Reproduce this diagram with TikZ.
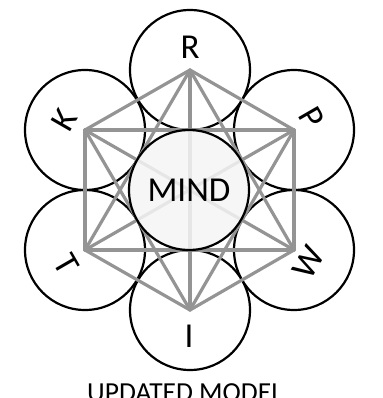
\documentclass[tikz,border=0pt]{standalone}
\usepackage{fontspec}
\setmainfont{Carlito}
\begin{document}
\begin{tikzpicture}[x=1pt,y=-1pt,
  outer/.style={draw=black,line width=2.2pt,circle,minimum size=120pt,inner sep=0pt},
  link/.style={draw=black!42,line width=3.2pt,line cap=round,line join=round},
  lbl/.style={font=\fontsize{35}{35}\selectfont,inner sep=0pt}]
\useasboundingbox (0,0) rectangle (382,398);
\clip (0,0) rectangle (382,398);
% outer circles
\node[outer] (R) at (190,70) {};
\node[outer] (P) at (294,130) {};
\node[outer] (W) at (294,250) {};
\node[outer] (I) at (190,310) {};
\node[outer] (T) at (85,250) {};
\node[outer] (K) at (85,130) {};
% connectors (complete graph)
\foreach \a/\b in {R/P,R/W,R/I,R/T,R/K,P/W,P/I,P/T,P/K,W/I,W/T,W/K,I/T,I/K,T/K}
  \draw[link] (\a.center) -- (\b.center);
% central circle
\node[draw=black,line width=2.2pt,circle,minimum size=120pt,inner sep=0pt,
      fill=black!4,fill opacity=0.85,text opacity=1] (M) at (189,190) {};
\node[lbl] (Mt) at (M.center) {MIND};
% labels
\node[lbl] (Rt) at (190,47) {R};
\node[lbl,rotate=-60] (Pt) at (312,118) {P};
\node[lbl,rotate=60] (Wt) at (309,262) {W};
\node[lbl] (It) at (189,336) {I};
\node[lbl,rotate=-60] (Tt) at (66,264) {T};
\node[lbl,rotate=60] (Kt) at (64,120) {K};
% title
\node[font=\fontsize{27.5}{27.5}\selectfont,anchor=base,inner sep=0pt] (title) at (185,401) {UPDATED MODEL};
\end{tikzpicture}
\end{document}
